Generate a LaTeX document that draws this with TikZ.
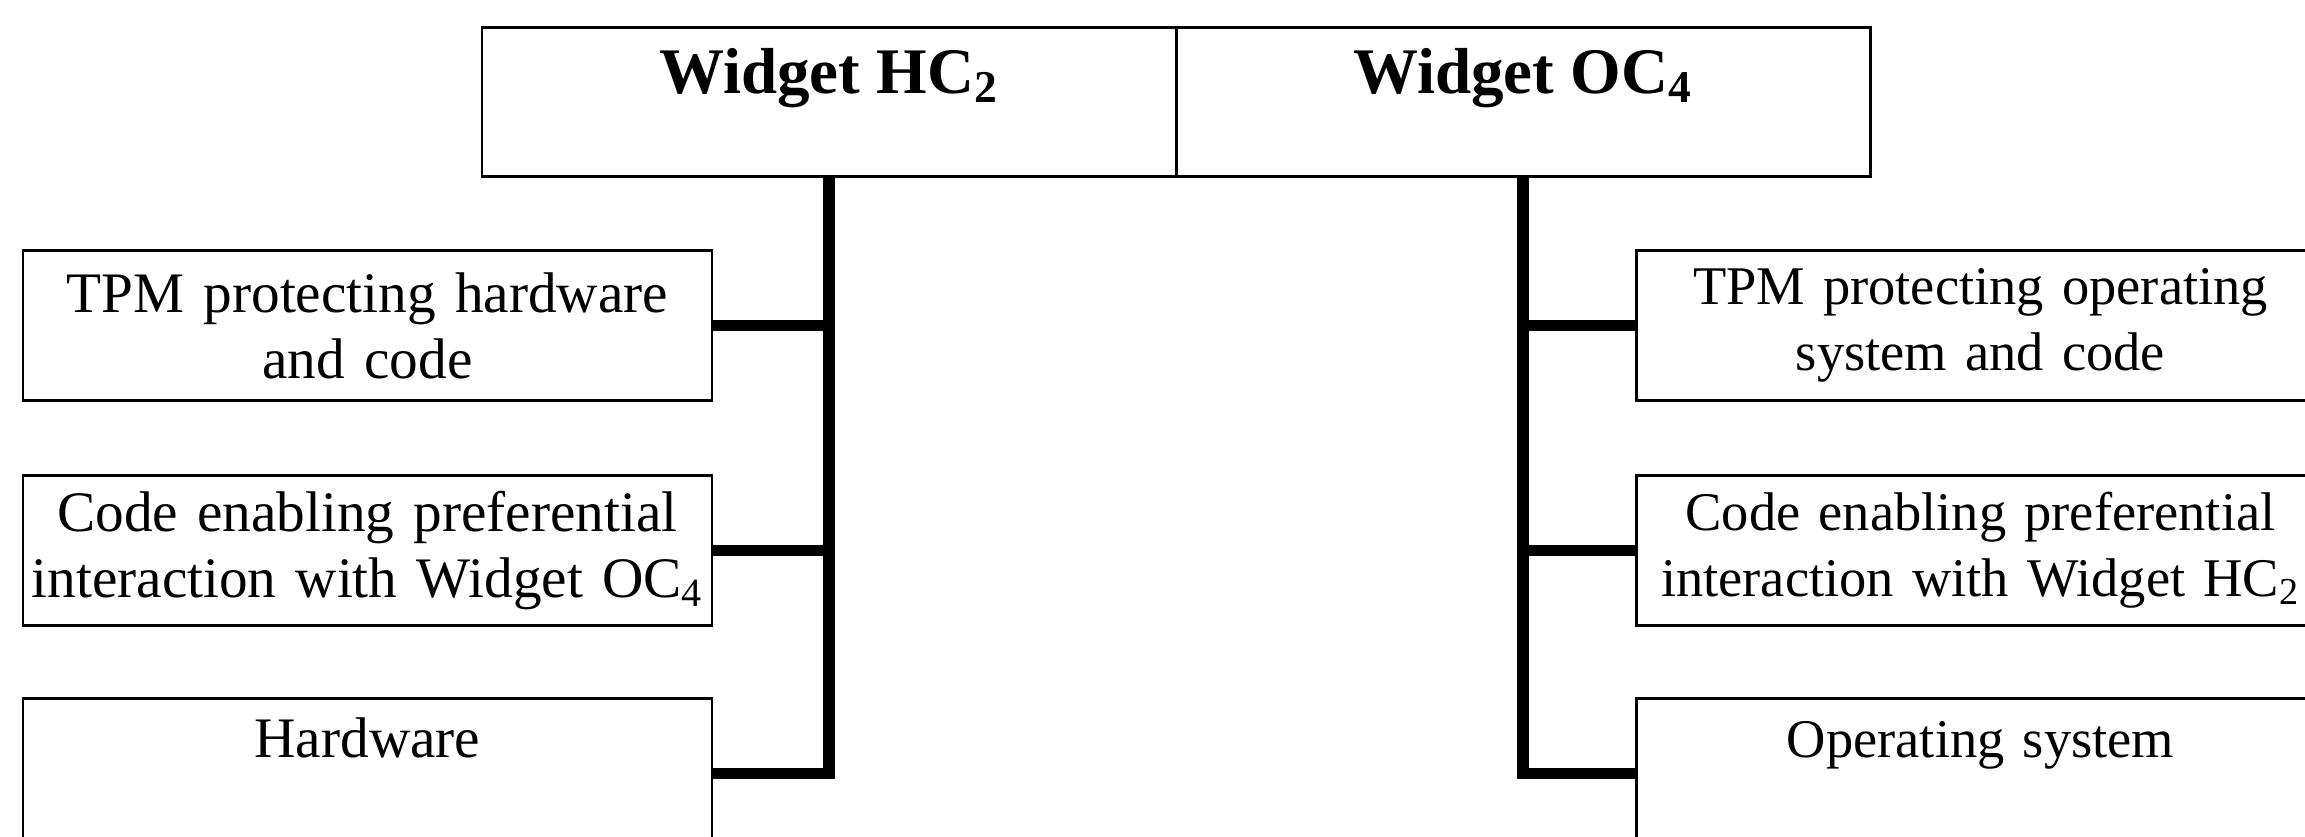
\documentclass[tikz,border=0pt]{standalone}
\usepackage{fontspec}
\setmainfont{Liberation Serif}
\usetikzlibrary{positioning,calc}

\tikzset{
  headbox/.style={draw, line width=0.85pt, minimum width=6.94cm, minimum height=1.49cm,
    inner sep=0pt, outer sep=0pt, font=\fontsize{18.5}{22}\selectfont\bfseries,
    text height=0.45cm, text depth=0.62cm},
  partbox/.style={draw, line width=0.85pt, text width=6.85cm, inner xsep=0.02cm, inner ysep=0pt,
    minimum height=1.5cm, align=center, outer sep=0pt, font=\fontsize{16.3}{18.8}\selectfont},
  onepart/.style={partbox, text height=0.42cm, text depth=0.74cm},
  smallpart/.style={font=\fontsize{15.5}{18.8}\selectfont},
  spine/.style={line width=3.2pt}
}

\begin{document}
\begin{tikzpicture}
    \useasboundingbox (0,0) rectangle (23.05,-8.36);
    \clip (0,0) rectangle (23.05,-8.36);
    % Top boxes
    \node[headbox] (hc) at (8.29,-1.015) {Widget HC\textsubscript{2}};
    \node[headbox, right=0pt of hc] (oc) {Widget OC\textsubscript{4}};
    % Left column
    \node[partbox] (hc1) at (3.675,-3.255) {TPM protecting hardware\\and code};
    \node[partbox, below=0.75cm of hc1] (hc2) {Code enabling preferential\\interaction with Widget OC\textsubscript{4}};
    \node[onepart, below=0.73cm of hc2] (hc3) {Hardware};
    % Right column
    \node[partbox, smallpart] (oc1) at (19.805,-3.255) {TPM protecting operating\\system and code};
    \node[partbox, smallpart, below=0.75cm of oc1] (oc2) {Code enabling preferential\\interaction with Widget HC\textsubscript{2}};
    \node[onepart, smallpart, below=0.73cm of oc2] (oc3) {Operating system};
    % Connectors
    \draw[spine] (hc.south) |- (hc3.east);
    \draw[spine] (hc.south |- hc1.east) -- (hc1.east);
    \draw[spine] (hc.south |- hc2.east) -- (hc2.east);
    \draw[spine] (oc.south) |- (oc3.west);
    \draw[spine] (oc.south |- oc1.west) -- (oc1.west);
    \draw[spine] (oc.south |- oc2.west) -- (oc2.west);
\end{tikzpicture}
\end{document}
